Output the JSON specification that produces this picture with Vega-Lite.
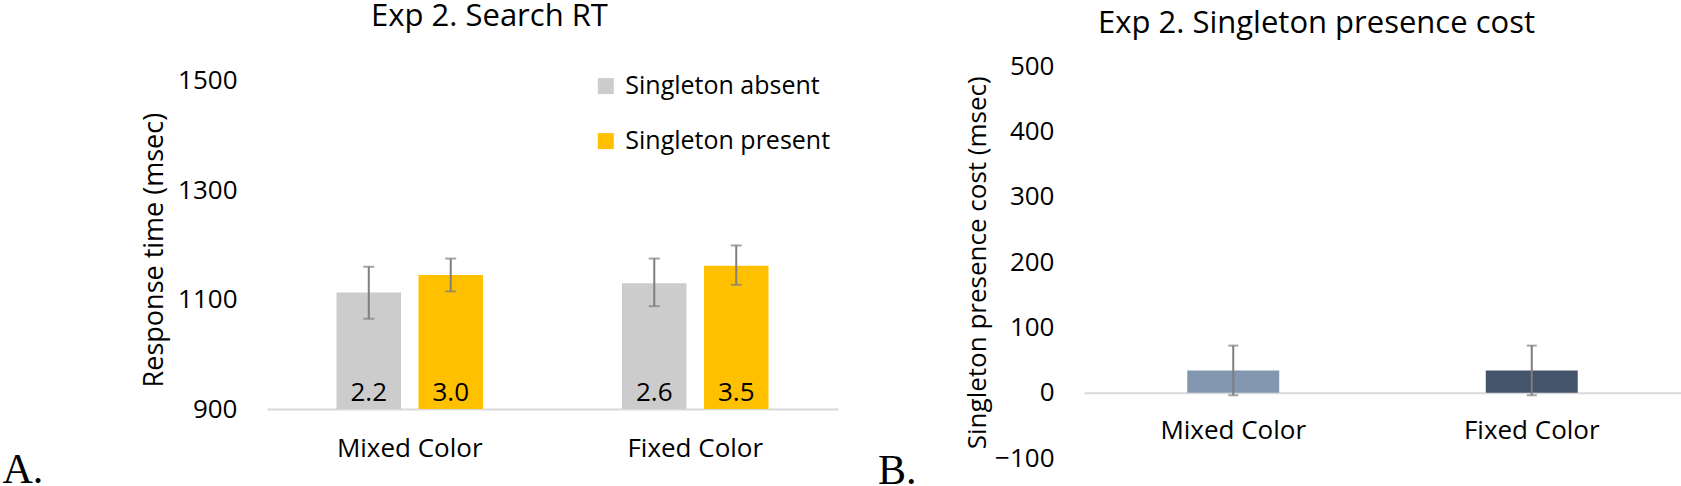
{
  "$schema": "https://vega.github.io/schema/vega-lite/v6.json",
  "background": "white",
  "padding": {"left": 2, "top": 0, "right": 0, "bottom": 0},
  "config": {
    "font": "Open Sans",
    "view": {"stroke": null},
    "axis": {"labelFont": "Open Sans", "titleFont": "Open Sans", "labelColor": "#000000", "titleColor": "#000000", "grid": false, "ticks": false, "tickSize": 0, "titleFontWeight": "normal"},
    "concat": {"spacing": 39}
  },
  "hconcat": [
    {
      "width": 571,
      "height": 343,
      "title": {"text": "Exp 2. Search RT", "font": "Open Sans", "fontSize": 31, "fontWeight": "normal", "color": "#000000", "anchor": "middle", "frame": "group", "baseline": "alphabetic", "offset": 9.4, "dx": -63},
      "data": {"values": [
        {"cond": "Mixed Color", "singleton": "Singleton absent", "rt": 1113, "lo": 1065, "hi": 1160, "rate": "2.2"},
        {"cond": "Mixed Color", "singleton": "Singleton present", "rt": 1145, "lo": 1115, "hi": 1175, "rate": "3.0"},
        {"cond": "Fixed Color", "singleton": "Singleton absent", "rt": 1130, "lo": 1088, "hi": 1175, "rate": "2.6"},
        {"cond": "Fixed Color", "singleton": "Singleton present", "rt": 1162, "lo": 1127, "hi": 1199, "rate": "3.5"}
      ]},
      "encoding": {
        "x": {"field": "cond", "type": "nominal", "sort": ["Mixed Color", "Fixed Color"], "title": "A.",
          "scale": {"paddingInner": 0.487, "paddingOuter": 0.2435},
          "axis": {"domain": true, "domainColor": "#D9D9D9", "domainWidth": 2, "labelFontSize": 26, "labelPadding": 47.7, "labelBaseline": "alphabetic", "labelAngle": 0,
            "titleFont": "Liberation Serif", "titleFontSize": 42, "titleX": -265, "titleY": 73.7, "titleAlign": "left", "titleBaseline": "alphabetic", "titleAngle": 0}}
      },
      "layer": [
        {
          "mark": {"type": "bar"},
          "encoding": {
            "xOffset": {"field": "singleton", "type": "nominal", "scale": {"paddingInner": 0.213, "paddingOuter": 0}},
            "y": {"field": "rt", "type": "quantitative", "title": "Response time (msec)",
              "scale": {"domain": [900, 1527], "zero": false, "nice": false},
              "axis": {"values": [900, 1100, 1300, 1500], "format": "d", "domain": false, "labelFontSize": 26, "labelPadding": 30,
                "titleFontSize": 27, "titleAngle": -90, "titleX": -104.3, "titleY": 183.6, "titleBaseline": "alphabetic", "titleAlign": "center"}},
            "y2": {"datum": 900},
            "color": {"field": "singleton", "type": "nominal",
              "scale": {"domain": ["Singleton absent", "Singleton present"], "range": ["#CCCCCC", "#FFC000"]},
              "legend": {"title": null, "orient": "none", "legendX": 326.3, "legendY": 7.6, "padding": 0, "symbolType": "square", "symbolSize": 256, "symbolStrokeWidth": 0,
                "labelFont": "Open Sans", "labelFontSize": 25, "labelColor": "#000000", "labelOffset": 7, "labelLimit": 400, "rowPadding": 29, "direction": "vertical"}}
          }
        },
        {
          "mark": {"type": "rule", "color": "#7F7F7F", "strokeWidth": 2},
          "encoding": {
            "xOffset": {"field": "singleton", "type": "nominal"},
            "y": {"field": "lo", "type": "quantitative", "title": "Response time (msec)"},
            "y2": {"field": "hi"}
          }
        },
        {
          "mark": {"type": "tick", "color": "#7F7F7F", "orient": "horizontal", "size": 11, "thickness": 2},
          "encoding": {
            "xOffset": {"field": "singleton", "type": "nominal"},
            "y": {"field": "lo", "type": "quantitative", "title": "Response time (msec)"}
          }
        },
        {
          "mark": {"type": "tick", "color": "#7F7F7F", "orient": "horizontal", "size": 11, "thickness": 2},
          "encoding": {
            "xOffset": {"field": "singleton", "type": "nominal"},
            "y": {"field": "hi", "type": "quantitative", "title": "Response time (msec)"}
          }
        },
        {
          "mark": {"type": "text", "baseline": "alphabetic", "dy": -8.3, "fontSize": 26, "color": "#000000", "font": "Open Sans"},
          "encoding": {
            "xOffset": {"field": "singleton", "type": "nominal"},
            "y": {"datum": 900, "type": "quantitative"},
            "text": {"field": "rate"}
          }
        }
      ]
    },
    {
      "width": 597,
      "height": 392,
      "title": {"text": "Exp 2. Singleton presence cost", "font": "Open Sans", "fontSize": 31, "fontWeight": "normal", "color": "#000000", "anchor": "middle", "frame": "group", "baseline": "alphabetic", "offset": -10.5, "dx": -66},
      "data": {"values": [
        {"cond": "Mixed Color", "cost": 34, "lo": -4, "hi": 72},
        {"cond": "Fixed Color", "cost": 34, "lo": -4, "hi": 72}
      ]},
      "encoding": {
        "x": {"field": "cond", "type": "nominal", "sort": ["Mixed Color", "Fixed Color"], "title": "B.",
          "scale": {"paddingInner": 0.692, "paddingOuter": 0.346},
          "axis": {"offset": -65.3, "domain": true, "domainColor": "#D9D9D9", "domainWidth": 2, "labelFontSize": 26, "labelPadding": 45.6, "labelBaseline": "alphabetic", "labelAngle": 0,
            "titleFont": "Liberation Serif", "titleFontSize": 42, "titleX": -206.6, "titleY": 90.3, "titleAlign": "left", "titleBaseline": "alphabetic", "titleAngle": 0}}
      },
      "layer": [
        {
          "mark": {"type": "bar"},
          "encoding": {
            "y": {"field": "cost", "type": "quantitative", "title": "Singleton presence cost (msec)",
              "scale": {"domain": [-100, 500], "nice": false},
              "axis": {"values": [-100, 0, 100, 200, 300, 400, 500], "format": "d", "domain": false, "labelFontSize": 26, "labelPadding": 30,
                "titleFontSize": 26, "titleAngle": -90, "titleX": -98.3, "titleY": 196.3, "titleBaseline": "alphabetic", "titleAlign": "center"}},
            "color": {"field": "cond", "type": "nominal", "scale": {"domain": ["Mixed Color", "Fixed Color"], "range": ["#8497B0", "#44546A"]}, "legend": null}
          }
        },
        {
          "mark": {"type": "rule", "color": "#7F7F7F", "strokeWidth": 2},
          "encoding": {
            "y": {"field": "lo", "type": "quantitative", "title": "Singleton presence cost (msec)"},
            "y2": {"field": "hi"}
          }
        },
        {
          "mark": {"type": "tick", "color": "#7F7F7F", "orient": "horizontal", "size": 10, "thickness": 2},
          "encoding": {
            "y": {"field": "lo", "type": "quantitative", "title": "Singleton presence cost (msec)"}
          }
        },
        {
          "mark": {"type": "tick", "color": "#7F7F7F", "orient": "horizontal", "size": 10, "thickness": 2},
          "encoding": {
            "y": {"field": "hi", "type": "quantitative", "title": "Singleton presence cost (msec)"}
          }
        }
      ]
    }
  ],
  "resolve": {"scale": {"color": "independent", "x": "independent", "y": "independent"}}
}
